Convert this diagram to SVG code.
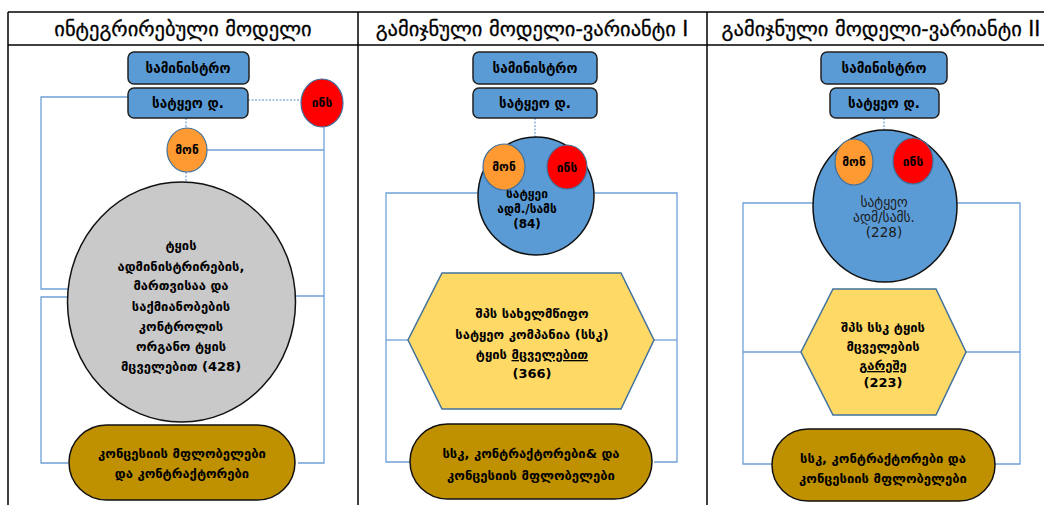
<svg xmlns="http://www.w3.org/2000/svg" width="1044" height="505" viewBox="0 0 1044 505">
<style>
text{font-family:"DejaVu Sans","Noto Sans",sans-serif;text-anchor:middle;fill:#000}
.hdr{font-size:20.5px;stroke:#000;stroke-width:0.3}
.b{font-weight:bold;font-size:12px}
.bx{font-weight:bold;font-size:13.5px}
.m{font-weight:bold;font-size:13px}
.r{font-size:13.5px;fill:#1a1a1a}
.box{fill:#5B9BD5;stroke:#222;stroke-width:1.5}
.mon{fill:#FF9A33;stroke:#41719C;stroke-width:1.2}
.ins{fill:#FF0000;stroke:#41719C;stroke-width:1.2}
.big{fill:#5B9BD5;stroke:#111;stroke-width:1.5}
.gray{fill:#C9C9C9;stroke:#111;stroke-width:1.5}
.hex{fill:#FFD966;stroke:#41719C;stroke-width:1.5}
.pill{fill:#BF9000;stroke:#111;stroke-width:1.5}
.ln{fill:none;stroke:#6FA0D8;stroke-width:1.3}
.dot{fill:none;stroke:#8DB4E2;stroke-width:1.5;stroke-dasharray:2 1.5}
.tbl{fill:none;stroke:#000;stroke-width:1.5}
</style>
<rect width="1044" height="505" fill="#fff"/>
<g id="table">
<line class="tbl" x1="8" y1="12" x2="1044" y2="12"/>
<line class="tbl" x1="8" y1="45" x2="1044" y2="45"/>
<line class="tbl" x1="8" y1="12" x2="8" y2="505"/>
<line class="tbl" x1="358" y1="12" x2="358" y2="505"/>
<line class="tbl" x1="707" y1="12" x2="707" y2="505"/>
<text class="hdr" x="183" y="36">ინტეგრირებული მოდელი</text>
<text class="hdr" x="532" y="36">გამიჯნული მოდელი-ვარიანტი I</text>
<text class="hdr" x="881" y="36">გამიჯნული მოდელი-ვარიანტი II</text>
</g>
<g id="connectors">
<line class="dot" x1="248" y1="100" x2="302" y2="100"/>
<line class="dot" x1="186" y1="118" x2="186" y2="128"/>
<line class="dot" x1="186" y1="172" x2="186" y2="182"/>
<polyline class="ln" points="207,150 324,150"/>
<polyline class="ln" points="324,127 324,463 298,463"/>
<line class="ln" x1="285" y1="296" x2="324" y2="296"/>
<polyline class="ln" points="128,97 41,97 41,289 86,289"/>
<polyline class="ln" points="83,297 41,297 41,463 68,463"/>
<line class="dot" x1="535" y1="118" x2="535" y2="137"/>
<polyline class="ln" points="478,193 386,193 386,462 410,462"/>
<line class="ln" x1="386" y1="340" x2="408" y2="340"/>
<polyline class="ln" points="594,193 677,193 677,462 654,462"/>
<line class="ln" x1="654" y1="340" x2="677" y2="340"/>
<line class="dot" x1="884" y1="118" x2="884" y2="130"/>
<polyline class="ln" points="813,203 743,203 743,464 772,464"/>
<line class="ln" x1="743" y1="352" x2="801" y2="352"/>
<polyline class="ln" points="957,203 1020,203 1020,464 995,464"/>
<line class="ln" x1="966" y1="352" x2="1020" y2="352"/>
</g>
<g id="c1-ministry"><rect class="box" x="128" y="52" width="121" height="32" rx="6"/><text class="bx" x="188" y="73">სამინისტრო</text></g>
<g id="c1-forest-dept"><rect class="box" x="128" y="88" width="120" height="30" rx="6"/><text class="bx" x="188" y="108">სატყეო დ.</text></g>
<g id="c1-ins"><ellipse class="ins" cx="322" cy="103" rx="21" ry="24"/><text class="b" x="322" y="107">ინს</text></g>
<g id="c1-mon"><ellipse class="mon" cx="187" cy="150" rx="20" ry="22"/><text class="b" x="187" y="154">მონ</text></g>
<g id="c1-main"><ellipse class="gray" cx="181.5" cy="302" rx="114" ry="120"/>
<text class="m" x="181" y="250">ტყის</text>
<text class="m" x="181" y="271">ადმინისტრირების,</text>
<text class="m" x="181" y="290">მართვისაა და</text>
<text class="m" x="181" y="311">საქმიანობების</text>
<text class="m" x="181" y="331">კონტროლის</text>
<text class="m" x="181" y="351">ორგანო ტყის</text>
<text class="m" x="181" y="371">მცველებით (428)</text></g>
<g id="c1-pill"><rect class="pill" x="69" y="425" width="226" height="75" rx="37.5"/>
<text class="m" x="182" y="458">კონცესიის მფლობელები</text>
<text class="m" x="182" y="478">და კონტრაქტორები</text></g>
<g id="c2-ministry"><rect class="box" x="473" y="52" width="124" height="32" rx="6"/><text class="bx" x="535" y="73">სამინისტრო</text></g>
<g id="c2-forest-dept"><rect class="box" x="473" y="88" width="124" height="30" rx="6"/><text class="bx" x="535" y="108">სატყეო დ.</text></g>
<g id="c2-agency"><ellipse class="big" cx="536" cy="196" rx="58" ry="59"/>
<text class="b" x="527" y="198">სატყეი</text>
<text class="b" x="527" y="213">ადმ./სამს</text>
<text class="b" x="527" y="228">(84)</text></g>
<g id="c2-mon"><ellipse class="mon" cx="504" cy="167" rx="21" ry="23"/><text class="b" x="504" y="171">მონ</text></g>
<g id="c2-ins"><ellipse class="ins" cx="567" cy="167" rx="20" ry="22"/><text class="b" x="567" y="172">ინს</text></g>
<g id="c2-company"><polygon class="hex" points="442,273 621,273 654,340 621,409 442,409 408,340"/>
<text class="m" x="532" y="318">შპს სახელმწიფო</text>
<text class="m" x="532" y="339">სატყეო კომპანია (სსკ)</text>
<text class="m" x="532" y="359">ტყის <tspan text-decoration="underline">მცველებით</tspan></text>
<text class="m" x="532" y="378">(366)</text></g>
<g id="c2-pill"><rect class="pill" x="410" y="424" width="242" height="75" rx="37.5"/>
<text class="m" x="531" y="458">სსკ, კონტრაქტორები&amp; და</text>
<text class="m" x="531" y="480">კონცესიის მფლობელები</text></g>
<g id="c3-ministry"><rect class="box" x="821" y="52" width="126" height="32" rx="6"/><text class="bx" x="884" y="73">სამინისტრო</text></g>
<g id="c3-forest-dept"><rect class="box" x="830" y="88" width="109" height="30" rx="6"/><text class="bx" x="884" y="108">სატყეო დ.</text></g>
<g id="c3-agency"><ellipse class="big" cx="885" cy="206" rx="72" ry="76"/>
<text class="r" x="884" y="207">სატყეო</text>
<text class="r" x="884" y="222">ადმ/სამს.</text>
<text class="r" x="884" y="237">(228)</text></g>
<g id="c3-mon"><ellipse class="mon" cx="854" cy="162" rx="19" ry="23"/><text class="b" x="854" y="166">მონ</text></g>
<g id="c3-ins"><ellipse class="ins" cx="913" cy="161" rx="20" ry="23"/><text class="b" x="913" y="166">ინს</text></g>
<g id="c3-company"><polygon class="hex" points="833,289 936,289 966,352 936,415 833,415 801,352"/>
<text class="m" x="883" y="332">შპს სსკ  ტყის</text>
<text class="m" x="883" y="351">მცველების</text>
<text class="m" x="883" y="370"><tspan text-decoration="underline">გარეშე</tspan></text>
<text class="m" x="883" y="387">(223)</text></g>
<g id="c3-pill"><rect class="pill" x="772" y="429" width="223" height="72" rx="36"/>
<text class="m" x="883" y="463">სსკ, კონტრაქტორები და</text>
<text class="m" x="883" y="483">კონცესიის მფლობელები</text></g>
</svg>
